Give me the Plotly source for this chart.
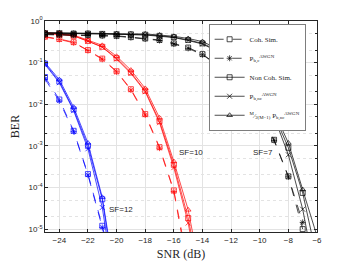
import math
import plotly.graph_objects as go

# ---------------- data ----------------
snr_sf12 = [-25, -24, -23, -22, -21, -20]
sf12_coh_sim = [0.045, 0.013, 2.3e-3, 2.1e-4, 1.2e-5, 5e-7]
sf12_pbc = [0.04, 0.012, 2.2e-3, 2.0e-4, 1.1e-5, 4e-7]
sf12_noncoh_sim = [0.095, 0.035, 7.5e-3, 1.0e-3, 5.2e-5, 3e-7]
sf12_pbnc = [0.09, 0.033, 7.0e-3, 8.5e-4, 3.3e-5, 2e-7]
sf12_scaled = [0.1, 0.039, 8.5e-3, 1.17e-3, 5.8e-5, 4e-7]

snr_sf10 = [-25, -24, -23, -22, -21, -20, -19, -18, -17, -16, -15, -14]
sf10_coh_sim = [0.42, 0.37, 0.31, 0.2, 0.125, 0.062, 0.023, 5.8e-3, 9.3e-4, 8.5e-5, 1.3e-6]
sf10_pbc = [0.41, 0.36, 0.30, 0.195, 0.12, 0.06, 0.022, 5.5e-3, 8.8e-4, 8.0e-5, 1.0e-6]
sf10_noncoh_sim = [0.5, 0.48, 0.44, 0.33, 0.24, 0.128, 0.058, 0.021, 3.9e-3, 3.5e-4, 1.85e-5, 3e-7]
sf10_pbnc = [0.5, 0.48, 0.44, 0.33, 0.235, 0.122, 0.055, 0.020, 3.6e-3, 3.0e-4, 1.4e-5, 2e-7]
sf10_scaled = [0.52, 0.50, 0.46, 0.34, 0.26, 0.142, 0.066, 0.024, 4.7e-3, 4.2e-4, 2.9e-5, 5e-7]

snr_sf7 = [-25, -24, -23, -22, -21, -20, -19, -18, -17, -16, -15, -14, -13, -12, -11, -10, -9, -8, -7, -6]
sf7_coh_sim = [0.48, 0.47, 0.47, 0.46, 0.45, 0.44, 0.41, 0.38, 0.35, 0.29, 0.23, 0.16, 0.09, 0.045, 0.02, 6.4e-3, 1.4e-3, 1.85e-4, 1.0e-5]
sf7_pbc = [0.47, 0.46, 0.46, 0.45, 0.44, 0.43, 0.40, 0.37, 0.34, 0.28, 0.22, 0.155, 0.088, 0.044, 0.02, 6.2e-3, 1.35e-3, 1.8e-4, 1.45e-5]
sf7_noncoh_sim = [0.51, 0.51, 0.50, 0.50, 0.49, 0.48, 0.48, 0.47, 0.44, 0.41, 0.35, 0.29, 0.2, 0.11, 0.05, 0.021, 5.6e-3, 9.0e-4, 7.4e-5, 2e-6]
sf7_pbnc = [0.51, 0.51, 0.50, 0.50, 0.49, 0.48, 0.47, 0.46, 0.43, 0.40, 0.34, 0.28, 0.19, 0.105, 0.047, 0.02, 5.0e-3, 6.1e-4, 3.0e-5, 5e-7]
sf7_scaled = [0.53, 0.52, 0.51, 0.51, 0.50, 0.50, 0.49, 0.49, 0.46, 0.43, 0.38, 0.32, 0.22, 0.12, 0.055, 0.024, 6.7e-3, 1.17e-3, 8.9e-5, 6.8e-6]

y_tick_vals = [1e-5, 1e-4, 1e-3, 1e-2, 1e-1, 1]
y_tick_text = ["10<sup>-5</sup>", "10<sup>-4</sup>", "10<sup>-3</sup>", "10<sup>-2</sup>", "10<sup>-1</sup>", "10<sup>0</sup>"]

legend_names = [
    "Coh. Sim.",
    "P<sub>b,c</sub><sup>AWGN</sup>",
    "Non Coh. Sim.",
    "P<sub>b,nc</sub><sup>AWGN</sup>",
    "<sup>M</sup>⁄<sub>2(M−1)</sub> P<sub>b,nc</sub><sup>AWGN</sup>",
]

sf_labels = ["SF=12", "SF=10", "SF=7"]
sf_label_x = [-19.7, -14.8, -9.8]
sf_label_y = [2.95e-5, 6.8e-4, 6.8e-4]

# ---------------- figure ----------------
fig = go.Figure()

styles = [
    dict(dash="dash", symbol="square-open"),
    dict(dash="dash", symbol="asterisk-open"),
    dict(dash="solid", symbol="square-open"),
    dict(dash="solid", symbol="x-thin-open"),
    dict(dash="solid", symbol="triangle-up-open"),
]

groups = [
    ("blue", snr_sf12, [sf12_coh_sim, sf12_pbc, sf12_noncoh_sim, sf12_pbnc, sf12_scaled]),
    ("red", snr_sf10, [sf10_coh_sim, sf10_pbc, sf10_noncoh_sim, sf10_pbnc, sf10_scaled]),
    ("black", snr_sf7, [sf7_coh_sim, sf7_pbc, sf7_noncoh_sim, sf7_pbnc, sf7_scaled]),
]

for color, xs, series in groups:
    for ys, st in zip(series, styles):
        fig.add_trace(go.Scatter(
            x=xs[:len(ys)], y=ys, mode="lines+markers",
            line=dict(color=color, width=0.7, dash=st["dash"]),
            marker=dict(symbol=st["symbol"], size=5, color=color,
                        line=dict(color=color, width=0.7)),
            showlegend=False,
        ))

# legend entries (black)
for name, st in zip(legend_names, styles):
    fig.add_trace(go.Scatter(
        x=[None], y=[None], mode="lines+markers", name=name,
        line=dict(color="black", width=0.7, dash=st["dash"]),
        marker=dict(symbol=st["symbol"], size=5, color="black",
                    line=dict(color="black", width=0.7)),
    ))

ann_font = dict(family="Liberation Sans, Arial", size=8, color="#262626")
for txt, ax_, ay_ in zip(sf_labels, sf_label_x, sf_label_y):
    fig.add_annotation(x=ax_, y=math.log10(ay_), text=txt, showarrow=False, font=ann_font)

axis_common = dict(
    showline=True, linecolor="#262626", linewidth=0.8, mirror="allticks",
    ticks="inside", ticklen=3, tickcolor="#262626", tickwidth=0.6,
    showgrid=True, gridcolor="#e3e3e3", gridwidth=0.6, zeroline=False,
    automargin=False,
    tickfont=dict(family="Liberation Sans, Arial", size=8, color="#262626"),
)

fig.update_xaxes(
    range=[-25, -6], tick0=-24, dtick=2,
    title=dict(text="SNR (dB)", font=dict(family="Liberation Serif, serif", size=12, color="#262626"), standoff=6),
    **axis_common,
)
fig.update_yaxes(
    type="log", range=[-5.07, 0],
    tickvals=y_tick_vals, ticktext=y_tick_text,
    minor=dict(showgrid=True, gridcolor="#e3e3e3", griddash="dot", gridwidth=0.6,
               ticks="inside", ticklen=2, tickcolor="#262626"),
    title=dict(text="BER", font=dict(family="Liberation Serif, serif", size=12, color="#262626"), standoff=6),
    **axis_common,
)

fig.update_layout(
    width=342, height=255,
    margin=dict(l=37, r=33, t=13, b=31),
    plot_bgcolor="white", paper_bgcolor="white",
    legend=dict(
        x=0.603, y=0.985, xanchor="left", yanchor="top",
        bgcolor="white", bordercolor="#262626", borderwidth=0.6,
        font=dict(family="Liberation Serif, serif", size=7, color="#262626"),
        itemwidth=30, tracegroupgap=0,
    ),
)

fig.write_html("out.html")
